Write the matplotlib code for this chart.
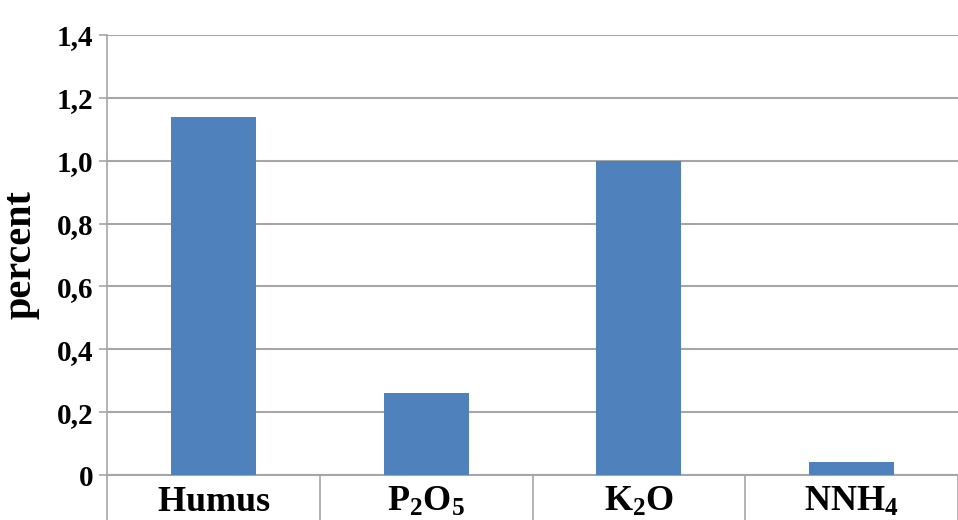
#!/usr/bin/env python3
"""Soil nutrient content bar chart (percent)."""

import matplotlib
matplotlib.use('Agg')
import matplotlib.pyplot as plt
from matplotlib.ticker import FixedLocator, FuncFormatter

# data
categories = [r'$\mathbf{Humus}$', r'$\mathbf{P_2O_5}$', r'$\mathbf{K_2O}$', r'$\mathbf{NNH_4}$']
values = [1.14, 0.26, 1.00, 0.04]
y_ticks = [0, 0.2, 0.4, 0.6, 0.8, 1.0, 1.2, 1.4]

plt.rcParams['font.family'] = ['Liberation Serif', 'DejaVu Serif']
plt.rcParams['mathtext.fontset'] = 'custom'
plt.rcParams['mathtext.rm'] = 'Liberation Serif:bold'
plt.rcParams['mathtext.bf'] = 'Liberation Serif:bold'
plt.rcParams['mathtext.it'] = 'Liberation Serif:bold'

BAR = '#4f81bd'
GRID = '#a6a6a6'


def fmt_y(v, _pos):
    if abs(v) < 1e-9:
        return '0'
    return f'{v:.1f}'.replace('.', ',')


def main():
    fig = plt.figure(figsize=(9.58, 5.2), dpi=100)
    ax = fig.add_axes([107 / 958, 45 / 520, 1 - 107 / 958, 1 - 80 / 520])

    x = list(range(len(categories)))
    ax.bar(x, values, width=0.4, color=BAR, zorder=3)

    ax.set_xlim(-0.5, len(categories) - 0.5)
    ax.set_ylim(0, 1.4)

    # y axis: gridlines + comma decimals
    ax.yaxis.set_major_locator(FixedLocator(y_ticks))
    ax.yaxis.set_major_formatter(FuncFormatter(fmt_y))
    ax.grid(axis='y', color=GRID, linewidth=1.5, zorder=0)
    ax.tick_params(axis='y', length=6, width=1.2, color=GRID, pad=4,
                   labelsize=21)
    for lab in ax.get_yticklabels():
        lab.set_fontweight('bold')

    # x axis: separators between categories, labels centred
    ax.xaxis.set_major_locator(FixedLocator([i - 0.5 for i in range(len(categories) + 1)]))
    ax.xaxis.set_minor_locator(FixedLocator(x))
    ax.xaxis.set_major_formatter(FuncFormatter(lambda v, p: ''))
    ax.set_xticks(x, categories, minor=True)
    ax.tick_params(axis='x', which='major', length=45, width=1.2, color=GRID)
    ax.tick_params(axis='x', which='minor', length=0, pad=8, labelsize=26)

    for side in ['top', 'right']:
        ax.spines[side].set_visible(False)
    ax.spines['left'].set_color(GRID)
    ax.spines['left'].set_linewidth(1.2)
    ax.spines['bottom'].set_color(GRID)
    ax.spines['bottom'].set_linewidth(1.5)

    ax.set_ylabel('percent', fontsize=29, fontweight='bold')
    ax.yaxis.set_label_coords(-0.079, 0.5)

    fig.savefig('out.png', dpi=100)


if __name__ == '__main__':
    main()
